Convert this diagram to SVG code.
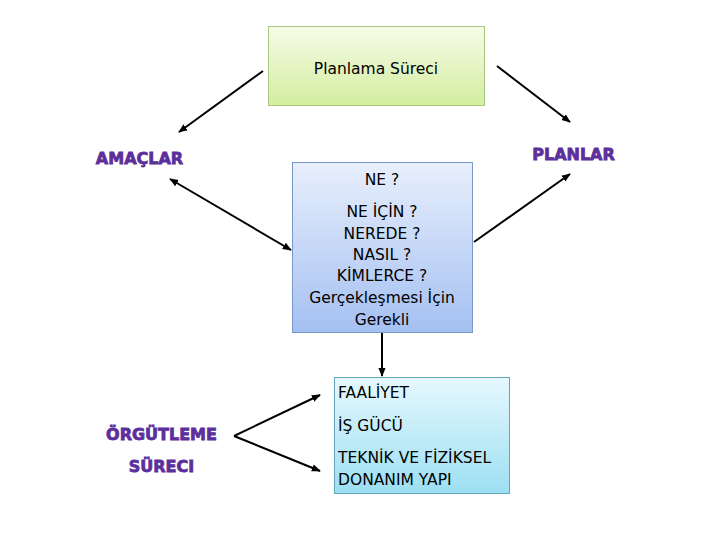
<svg xmlns="http://www.w3.org/2000/svg" width="720" height="540" viewBox="0 0 720 540">
<defs>
<linearGradient id="gGreen" x1="0" y1="0" x2="0" y2="1"><stop offset="0" stop-color="#f6fbe8"/><stop offset="1" stop-color="#d3eea0"/></linearGradient>
<linearGradient id="gBlue" x1="0" y1="0" x2="0" y2="1"><stop offset="0" stop-color="#e8effc"/><stop offset="1" stop-color="#a4c0f2"/></linearGradient>
<linearGradient id="gCyan" x1="0" y1="0" x2="0" y2="1"><stop offset="0" stop-color="#e6f8fd"/><stop offset="1" stop-color="#9ddff3"/></linearGradient>
<marker id="ah" viewBox="0 0 10 10" refX="9" refY="5" markerWidth="4.5" markerHeight="4.5" orient="auto-start-reverse" markerUnits="strokeWidth"><path d="M0,1 L10,5 L0,9 Z" fill="#000"/></marker>
</defs>
<style>
.t{font-family:"DejaVu Sans","Liberation Sans",sans-serif;font-size:15.5px;fill:#000}
.p{font-family:"DejaVu Sans","Liberation Sans",sans-serif;font-size:16px;font-weight:bold;fill:#5c2f9c;stroke:#5c2f9c;stroke-width:0.8}
.c{stroke:#000;stroke-width:2;fill:none;marker-end:url(#ah)}
</style>
<rect width="720" height="540" fill="#fff"/>
<g id="planlama">
<rect x="268.5" y="26.5" width="216" height="79" fill="url(#gGreen)" stroke="#a9c982"/>
<text class="t" x="376" y="74" text-anchor="middle">Planlama Süreci</text>
</g>
<g id="sorular">
<rect x="292.5" y="162.5" width="180" height="170" fill="url(#gBlue)" stroke="#7a98c6"/>
<text class="t" x="382" y="185" text-anchor="middle">NE ?</text>
<text class="t" x="382" y="217" text-anchor="middle">NE İÇİN ?</text>
<text class="t" x="382" y="239" text-anchor="middle">NEREDE ?</text>
<text class="t" x="382" y="260" text-anchor="middle">NASIL ?</text>
<text class="t" x="382" y="281" text-anchor="middle">KİMLERCE ?</text>
<text class="t" x="382" y="303" text-anchor="middle">Gerçekleşmesi İçin</text>
<text class="t" x="382" y="325" text-anchor="middle">Gerekli</text>
</g>
<g id="kaynaklar">
<rect x="334.5" y="377.5" width="175" height="116" fill="url(#gCyan)" stroke="#62a8ba"/>
<text class="t" x="338" y="398">FAALİYET</text>
<text class="t" x="338" y="431">İŞ GÜCÜ</text>
<text class="t" x="338" y="463">TEKNİK VE FİZİKSEL</text>
<text class="t" x="338" y="485">DONANIM YAPI</text>
</g>
<g id="amaclar"><text class="p" x="139.5" y="164" text-anchor="middle">AMAÇLAR</text></g>
<g id="planlar"><text class="p" x="573.5" y="160" text-anchor="middle">PLANLAR</text></g>
<g id="orgutleme">
<text class="p" x="161.5" y="440" text-anchor="middle">ÖRGÜTLEME</text>
<text class="p" x="161.5" y="472" text-anchor="middle">SÜRECI</text>
</g>
<g id="connectors">
<line class="c" x1="263" y1="71" x2="179" y2="132"/>
<line class="c" x1="497" y1="66" x2="570" y2="122"/>
<line class="c" x1="170" y1="179" x2="291" y2="250" style="marker-start:url(#ah)"/>
<line class="c" x1="474" y1="242" x2="570" y2="174"/>
<line class="c" x1="382" y1="333" x2="382" y2="376"/>
<polyline class="c" points="320,395 234,436" style="marker-end:none;marker-start:url(#ah)"/>
<line class="c" x1="234" y1="436" x2="320" y2="471"/>
</g>
</svg>
